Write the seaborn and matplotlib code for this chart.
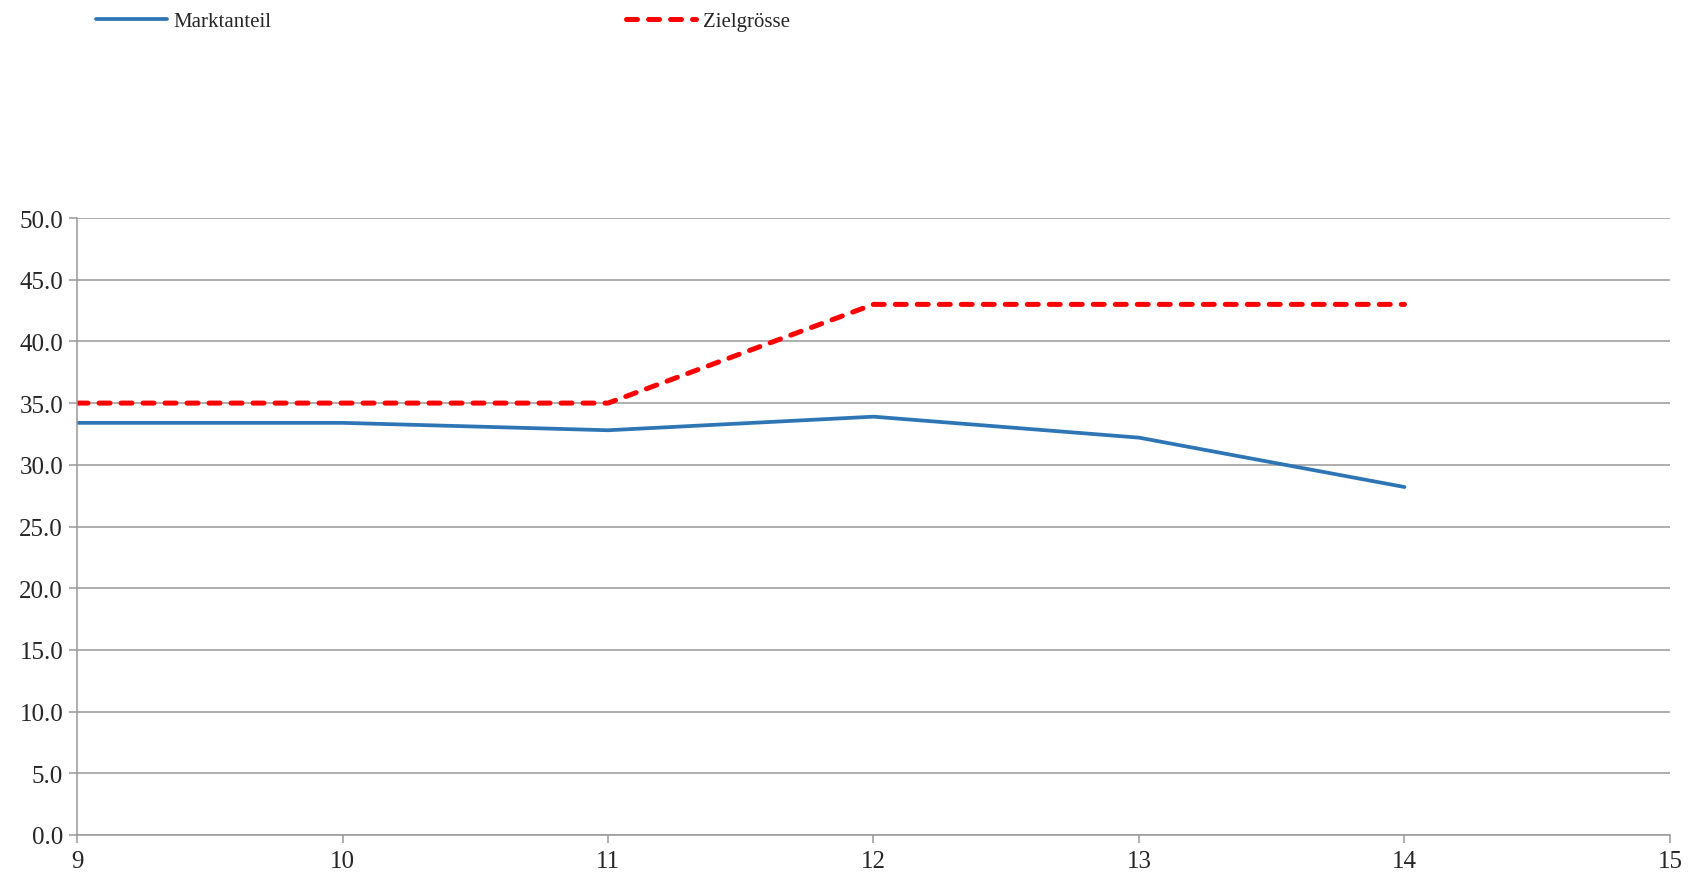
import pandas as pd
import seaborn as sns
import matplotlib.pyplot as plt

# Data
jahre = [9, 10, 11, 12, 13, 14]
marktanteil = [33.4, 33.4, 32.8, 33.9, 32.2, 28.2]
zielgroesse = [35.0, 35.0, 35.0, 43.0, 43.0, 43.0]

df = pd.DataFrame({"Jahr": jahre, "Marktanteil": marktanteil, "Zielgrösse": zielgroesse})

sns.set_style("white")
plt.rcParams["font.family"] = ["Liberation Serif", "DejaVu Serif"]

fig = plt.figure(figsize=(16.9, 8.79), dpi=100)
ax = fig.add_axes([77 / 1690, 1 - 836 / 879, (1670 - 77) / 1690, (836 - 219) / 879])

sns.lineplot(data=df, x="Jahr", y="Marktanteil", ax=ax, color="#2E75B6",
             linewidth=2.7, label="Marktanteil")
sns.lineplot(data=df, x="Jahr", y="Zielgrösse", ax=ax, color="#FF0000",
             linewidth=3.6, label="Zielgrösse")
red = ax.lines[1]
red.set_dashes((2.2, 2.2))
red.set_dash_capstyle("round")

ax.set_xlim(9, 15)
ax.set_ylim(0, 50)
ax.set_xticks(range(9, 16))
ax.set_yticks([i * 5 for i in range(11)])
ax.set_yticklabels([f"{i * 5:.1f}" for i in range(11)])
ax.set_xlabel("")
ax.set_ylabel("")
ax.yaxis.grid(True, color="#999999", linewidth=1.1)
ax.xaxis.grid(False)
for s in ["top", "right"]:
    ax.spines[s].set_visible(False)
for s in ["left", "bottom"]:
    ax.spines[s].set_color("#999999")
    ax.spines[s].set_linewidth(1.1)
ax.tick_params(axis="both", which="major", labelsize=18, length=6, width=1.1,
               color="#999999", direction="out", left=True, bottom=True, pad=4)
ax.tick_params(axis="x", pad=5)

ax.get_legend().remove()
handles, labels = ax.get_legend_handles_labels()
fig.legend(handles, labels, ncol=2, loc="upper left", bbox_to_anchor=(88 / 1690, 1 - 4 / 879),
           frameon=False, fontsize=15, handlelength=3.4, handletextpad=0.3,
           columnspacing=17.0, borderaxespad=0)

fig.savefig("out.png", dpi=100)
